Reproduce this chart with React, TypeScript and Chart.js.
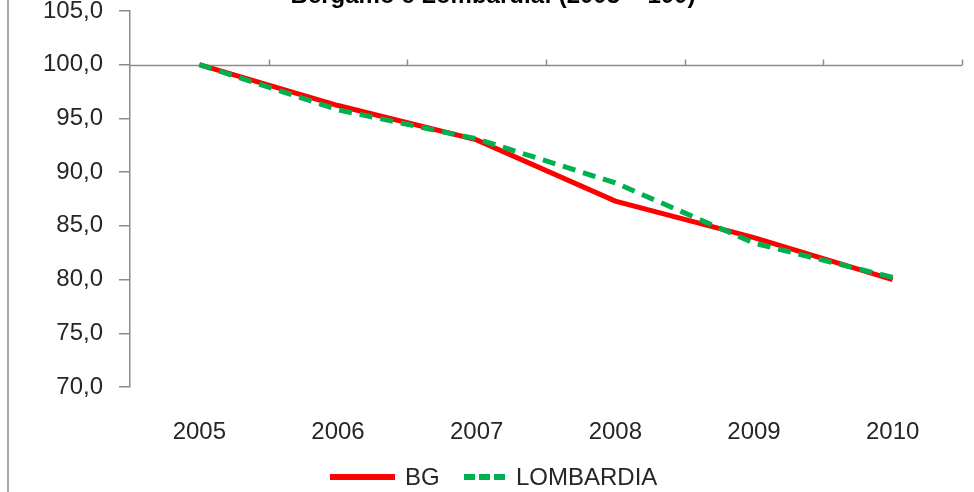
import React, { useEffect, useRef } from "react";
import { Chart, registerables } from "chart.js";

Chart.register(...registerables);

const titleText = "Bergamo e Lombardia: (2005 = 100)";
const categories = ["2005", "2006", "2007", "2008", "2009", "2010"];
const bgLabel = "BG";
const bgValues = [100, 96.2, 93.0, 87.3, 83.9, 80.0];
const lombardiaLabel = "LOMBARDIA";
const lombardiaValues = [100, 95.8, 93.1, 89.0, 83.4, 80.2];
const yMin = 70;
const yMax = 105;
const yStep = 5;
const baseValue = 100;

const FONT = "'Liberation Sans', Arial, sans-serif";
const AXIS_COLOR = "#8c8c8c";
const TEXT_COLOR = "#262626";

const decorPlugin = {
  id: "decor",
  beforeDatasetsDraw(chart: any) {
    const { ctx, chartArea, scales } = chart;
    const y = Math.round(scales.y.getPixelForValue(baseValue)) + 0.5;
    const n = categories.length;
    const w = (chartArea.right - chartArea.left) / n;
    ctx.save();
    ctx.strokeStyle = AXIS_COLOR;
    ctx.lineWidth = 1.5;
    ctx.beginPath();
    ctx.moveTo(chartArea.left, y);
    ctx.lineTo(chartArea.right, y);
    for (let i = 1; i <= n; i++) {
      const x = Math.round(chartArea.left + i * w) + 0.5;
      ctx.moveTo(x, y);
      ctx.lineTo(x, y - 6);
    }
    ctx.stroke();
    ctx.restore();
  },
  afterDraw(chart: any) {
    const { ctx, height } = chart;
    ctx.save();
    ctx.strokeStyle = "#a6a6a6";
    ctx.lineWidth = 2;
    ctx.beginPath();
    ctx.moveTo(8, 0);
    ctx.lineTo(8, height);
    ctx.stroke();
    ctx.fillStyle = "#000000";
    ctx.font = `bold 24px ${FONT}`;
    ctx.textAlign = "center";
    ctx.textBaseline = "alphabetic";
    ctx.fillText(titleText, 493, 3);
    const ds = chart.data.datasets;
    const ly = 477;
    ctx.font = `24px ${FONT}`;
    ctx.textBaseline = "middle";
    ctx.textAlign = "left";
    const items = [
      { x0: 330, x1: 395, tx: 405, dash: [] as number[] },
      { x0: 464, x1: 506, tx: 516, dash: [11, 4] },
    ];
    ds.forEach((d: any, i: number) => {
      const it = items[i];
      ctx.strokeStyle = d.borderColor;
      ctx.lineWidth = 6;
      ctx.setLineDash(it.dash);
      ctx.lineCap = "butt";
      ctx.beginPath();
      ctx.moveTo(it.x0, ly);
      ctx.lineTo(it.x1, ly);
      ctx.stroke();
      ctx.setLineDash([]);
      ctx.fillStyle = TEXT_COLOR;
      ctx.fillText(d.label, it.tx, ly + 1);
    });
    ctx.restore();
  },
};

export default function App() {
  const ref = useRef<HTMLCanvasElement>(null);
  useEffect(() => {
    document.body.style.margin = "0";
    const canvas = ref.current!;
    const chart = new Chart(canvas, {
      type: "line",
      data: {
        labels: categories,
        datasets: [
          {
            label: bgLabel,
            data: bgValues,
            borderColor: "#ff0000",
            backgroundColor: "#ff0000",
            borderWidth: 5,
            pointRadius: 0,
            tension: 0,
            order: 1,
          },
          {
            label: lombardiaLabel,
            data: lombardiaValues,
            borderColor: "#00b050",
            backgroundColor: "#00b050",
            borderWidth: 5,
            borderDash: [13, 8],
            pointRadius: 0,
            tension: 0,
            order: 0,
          },
        ],
      },
      plugins: [decorPlugin],
      options: {
        responsive: false,
        animation: false,
        layout: { padding: { top: 11, right: 12, left: 0, bottom: 0 } },
        plugins: {
          legend: { display: false },
          tooltip: { enabled: false },
          title: { display: false },
        },
        scales: {
          x: {
            offset: true,
            grid: { display: false, drawTicks: false },
            border: { display: false },
            ticks: {
              padding: 33,
              color: TEXT_COLOR,
              font: { family: FONT, size: 24, lineHeight: 1 },
              maxRotation: 0,
            },
            afterFit: (scale: any) => {
              scale.height = 105;
              scale.paddingLeft = 0;
              scale.paddingRight = 0;
            },
          },
          y: {
            min: yMin,
            max: yMax,
            ticks: {
              stepSize: yStep,
              padding: 16,
              color: TEXT_COLOR,
              font: { family: FONT, size: 24, lineHeight: 1 },
              callback: (v: any) => Number(v).toFixed(1).replace(".", ","),
            },
            grid: {
              drawOnChartArea: false,
              drawTicks: true,
              tickLength: 11,
              color: AXIS_COLOR,
              lineWidth: 1.5,
            },
            border: { display: true, color: AXIS_COLOR, width: 1.5 },
            afterFit: (scale: any) => {
              scale.width = 130;
              scale.paddingTop = 0;
              scale.paddingBottom = 0;
            },
          },
        },
      },
    });
    return () => chart.destroy();
  }, []);
  return (
    <div style={{ width: 974, height: 492 }}>
      <canvas ref={ref} width={974} height={492} />
    </div>
  );
}
